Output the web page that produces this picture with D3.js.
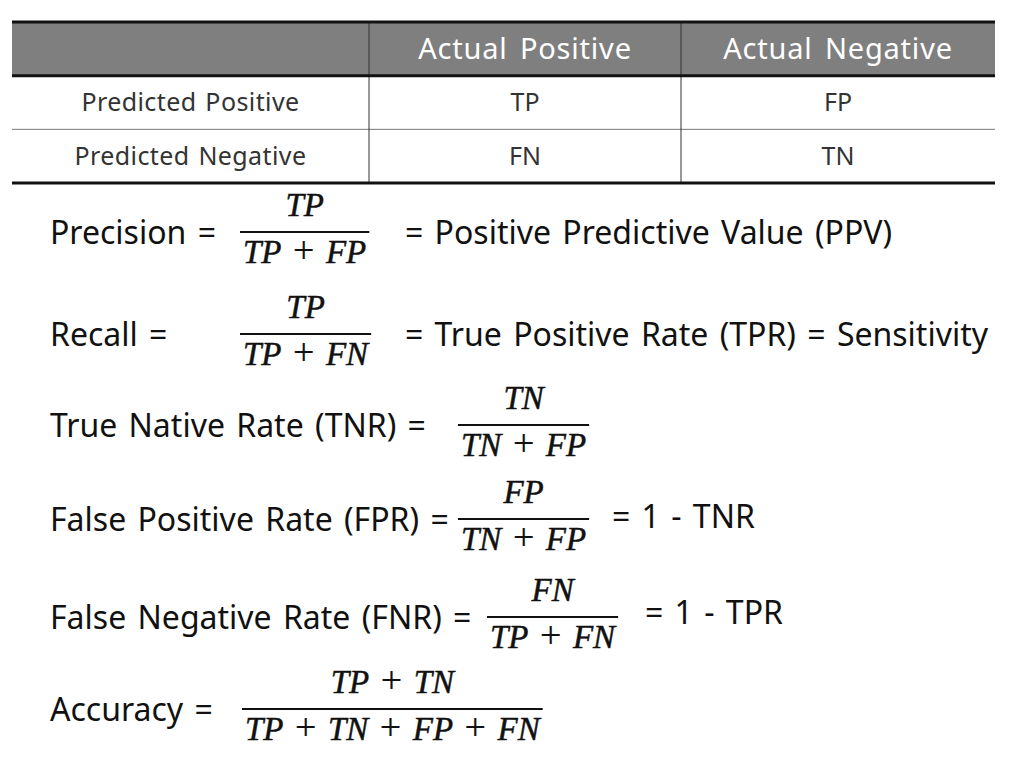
<!DOCTYPE html>
<html>
<head>
<meta charset="utf-8">
<script src="https://cdn.jsdelivr.net/npm/d3@7"></script>
<style>
  html, body { margin: 0; padding: 0; background: #fff; }
  svg { display: block; }
</style>
</head>
<body>
<div id="chart"></div>
<script>
// table content
var columnHeaders = ["", "Actual Positive", "Actual Negative"];
var rowHeaders = ["Predicted Positive", "Predicted Negative"];
var cellValues = [["TP", "FP"], ["FN", "TN"]];

// formulas: label, fraction terms, and what comes after
var formulaNames = ["precision", "recall", "tnr", "fpr", "fnr", "accuracy"];
var formulaLabels = ["Precision =", "Recall =", "True Native Rate (TNR) =", "False Positive Rate (FPR) =", "False Negative Rate (FNR) =", "Accuracy ="];
var numerators = [["TP"], ["TP"], ["TN"], ["FP"], ["FN"], ["TP", "TN"]];
var denominators = [["TP", "FP"], ["TP", "FN"], ["TN", "FP"], ["TN", "FP"], ["TP", "FN"], ["TP", "TN", "FP", "FN"]];
var suffixes = ["= Positive Predictive Value (PPV)", "= True Positive Rate (TPR) = Sensitivity", "", "= 1 - TNR", "= 1 - TPR", ""];

// layout
var width = 1035, height = 770;
var tableTop = 22, tableBottom = 183;
var columnEdges = [12, 369, 681, 995];
var barY = [232, 334, 425, 519, 617, 709];
var barX = [240, 240, 458, 458, 487, 242];
var suffixX = [405, 405, 0, 612, 645, 0];
var suffixDy = [12, 12, 0, 9, 7, 0];

var textFont = "'Noto Sans', 'Open Sans', sans-serif";
var mathFont = "'Liberation Serif', 'DejaVu Serif', serif";

var svg = d3.select("#chart").append("svg")
  .attr("width", width)
  .attr("height", height);

svg.append("rect")
  .attr("width", width)
  .attr("height", height)
  .attr("fill", "#fff");

// ---------- table ----------
var y = d3.scaleBand()
  .domain(["head", 0, 1])
  .range([tableTop, tableBottom]);

var x = d3.scaleOrdinal()
  .domain([0, 1, 2])
  .range(columnEdges.slice(0, 3));

function colWidth(i) { return columnEdges[i + 1] - columnEdges[i]; }
function colCenter(i) { return x(i) + colWidth(i) / 2; }

var table = svg.append("g").attr("class", "table");

// gray header band
table.append("rect")
  .attr("x", columnEdges[0])
  .attr("y", y("head"))
  .attr("width", columnEdges[3] - columnEdges[0])
  .attr("height", y.bandwidth())
  .attr("fill", "#7f7f7f");

table.selectAll(".head")
  .data(columnHeaders)
  .enter()
  .append("text")
    .attr("class", "head")
    .attr("x", function(d, i) { return colCenter(i); })
    .attr("y", y("head") + y.bandwidth() / 2)
    .attr("dy", "0.36em")
    .attr("text-anchor", "middle")
    .attr("font-family", textFont)
    .attr("font-size", "29px")
    .attr("letter-spacing", "0.8px")
    .attr("word-spacing", "4px")
    .attr("fill", "#fff")
    .text(function(d) { return d; });

var rows = table.selectAll(".row")
  .data(rowHeaders)
  .enter()
  .append("g")
    .attr("class", "row")
    .attr("transform", function(d, i) { return "translate(0," + y(i) + ")"; });

rows.append("text")
  .attr("x", colCenter(0))
  .attr("y", y.bandwidth() / 2)
  .attr("dy", "0.36em")
  .attr("text-anchor", "middle")
  .attr("font-family", textFont)
  .attr("font-size", "25px")
  .attr("letter-spacing", "0.4px")
  .attr("word-spacing", "2px")
  .attr("fill", "#333")
  .text(function(d) { return d; });

rows.selectAll(".cell")
  .data(function(d, i) { return cellValues[i]; })
  .enter()
  .append("text")
    .attr("class", "cell")
    .attr("x", function(d, j) { return colCenter(j + 1); })
    .attr("y", y.bandwidth() / 2)
    .attr("dy", "0.36em")
    .attr("text-anchor", "middle")
    .attr("font-family", textFont)
    .attr("font-size", "25px")
    .attr("fill", "#333")
    .text(function(d) { return d; });

// thin row separator
table.append("line")
  .attr("x1", columnEdges[0]).attr("x2", columnEdges[3])
  .attr("y1", y(1)).attr("y2", y(1))
  .attr("stroke", "#777")
  .attr("stroke-width", 1);

// column dividers
table.selectAll(".divider")
  .data([1, 2])
  .enter()
  .append("line")
    .attr("class", "divider")
    .attr("x1", function(d) { return x(d); })
    .attr("x2", function(d) { return x(d); })
    .attr("y1", tableTop)
    .attr("y2", tableBottom)
    .attr("stroke", "#333")
    .attr("stroke-width", 1);

// thick rules: top, under header, bottom
table.selectAll(".rule")
  .data([tableTop, y(0), tableBottom])
  .enter()
  .append("line")
    .attr("class", "rule")
    .attr("x1", columnEdges[0]).attr("x2", columnEdges[3])
    .attr("y1", function(d) { return d; })
    .attr("y2", function(d) { return d; })
    .attr("stroke", "#111")
    .attr("stroke-width", 3);

// ---------- formulas ----------
function writeTerms(sel, terms) {
  terms.forEach(function(t, i) {
    if (i > 0) {
      sel.append("tspan")
        .attr("font-style", "normal")
        .attr("font-size", "38px")
        .attr("stroke-width", 0.2)
        .text(" + ");
    }
    sel.append("tspan").text(t);
  });
}

function mathText(g) {
  return g.append("text")
    .attr("text-anchor", "middle")
    .attr("font-family", mathFont)
    .attr("font-style", "italic")
    .attr("font-size", "33px")
    .attr("word-spacing", "2px")
    .attr("fill", "#111")
    .attr("stroke", "#111")
    .attr("stroke-width", 0.5);
}

var formulas = svg.selectAll(".formula")
  .data(formulaNames)
  .enter()
  .append("g")
    .attr("class", "formula")
    .attr("transform", function(d, i) { return "translate(0," + barY[i] + ")"; });

formulas.append("text")
  .attr("x", 50)
  .attr("y", 12)
  .attr("font-family", textFont)
  .attr("font-size", "32px")
  .attr("word-spacing", "3px")
  .attr("fill", "#111")
  .text(function(d, i) { return formulaLabels[i]; });

formulas.each(function(d, i) {
  var g = d3.select(this);

  var den = mathText(g).attr("y", 31);
  writeTerms(den, denominators[i]);

  var barW = den.node().getComputedTextLength() + 6;
  var cx = barX[i] + barW / 2;
  den.attr("x", cx);

  var num = mathText(g).attr("x", cx).attr("y", -16);
  writeTerms(num, numerators[i]);

  g.append("line")
    .attr("x1", barX[i])
    .attr("x2", barX[i] + barW)
    .attr("y1", 0)
    .attr("y2", 0)
    .attr("stroke", "#111")
    .attr("stroke-width", 2);

  if (suffixes[i]) {
    g.append("text")
      .attr("x", suffixX[i])
      .attr("y", suffixDy[i])
      .attr("font-family", textFont)
      .attr("font-size", "32px")
      .attr("word-spacing", "3px")
      .attr("fill", "#111")
      .text(suffixes[i]);
  }
});
</script>
</body>
</html>
